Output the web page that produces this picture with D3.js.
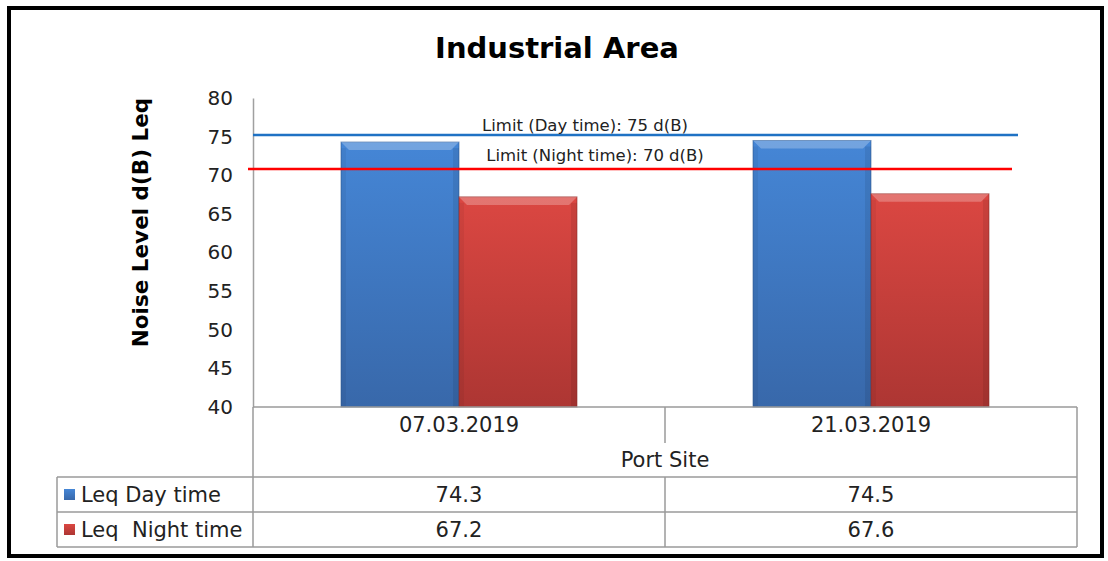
<!DOCTYPE html>
<html>
<head>
<meta charset="utf-8">
<script src="https://cdn.jsdelivr.net/npm/d3@7"></script>
<style>
  body { margin: 0; background: #fff; }
  text { font-family: "DejaVu Sans", Verdana, sans-serif; fill: #222; }
</style>
</head>
<body>
<script>
var categories = ['07.03.2019', '21.03.2019']
var seriesNames = ['Leq Day time', 'Leq  Night time']
var dayValues = [74.3, 74.5]
var nightValues = [67.2, 67.6]
var yTicks = [40, 45, 50, 55, 60, 65, 70, 75, 80]
var limitValues = [75.2, 70.8]
var limitLabels = ['Limit (Day time): 75 d(B)', 'Limit (Night time): 70 d(B)']
var groupLabel = 'Port Site'

var width = 1108, height = 561
var pl = 253, pr = 1077, pt = 98, pb = 407

var svg = d3.select('body').append('svg')
  .attr('width', width)
  .attr('height', height)

var defs = svg.append('defs')
function grad(id, c1, c2){
  var g = defs.append('linearGradient').attr('id', id)
    .attr('x1', 0).attr('y1', 0).attr('x2', 0).attr('y2', 1)
  g.append('stop').attr('offset', '0%').attr('stop-color', c1)
  g.append('stop').attr('offset', '100%').attr('stop-color', c2)
}
grad('gDay', '#4586d6', '#3868aa')
grad('gNight', '#db4742', '#ad3633')

// frame
svg.append('rect')
  .attr('x', 9).attr('y', 8)
  .attr('width', 1093).attr('height', 548)
  .attr('fill', '#fff')
  .attr('stroke', '#000')
  .attr('stroke-width', 4)

svg.append('text')
  .attr('x', 557).attr('y', 58)
  .attr('text-anchor', 'middle')
  .style('font-size', '29px')
  .style('font-weight', 'bold')
  .style('fill', '#000')
  .text('Industrial Area')

var y = d3.scaleLinear().domain([40, 80]).range([pb, pt])
var x = d3.scaleBand().domain(categories).range([pl, pr])
var xs = d3.scaleBand().domain([0, 1]).range([88, x.bandwidth() - 88])

// y axis
var yAxis = svg.append('g')
  .attr('transform', 'translate(' + pl + ',0)')
  .call(d3.axisLeft(y).tickValues(yTicks).tickSize(0).tickPadding(20))
yAxis.select('.domain').attr('stroke', '#a0a0a0').attr('stroke-width', 1.5)
yAxis.selectAll('text')
  .style('font-size', '20px')
  .style('font-family', '"DejaVu Sans", Verdana, sans-serif')
  .attr('fill', '#222')

svg.append('text')
  .attr('transform', 'translate(148,' + ((pt + pb) / 2 - 30) + ') rotate(-90)')
  .attr('text-anchor', 'middle')
  .style('font-size', '21.5px')
  .style('font-weight', 'bold')
  .style('fill', '#000')
  .text('Noise Level d(B) Leq')

// bars
var data = []
categories.forEach(function(c, i){
  data.push({cat: c, s: 0, v: dayValues[i]})
  data.push({cat: c, s: 1, v: nightValues[i]})
})

var bars = svg.selectAll('g.bar')
  .data(data)
  .enter()
  .append('g')
  .attr('class', 'bar')

bars.append('rect')
  .attr('x', function(d){ return x(d.cat) + xs(d.s) })
  .attr('y', function(d){ return y(d.v) })
  .attr('width', xs.bandwidth())
  .attr('height', function(d){ return pb - y(d.v) })
  .attr('fill', function(d){ return d.s == 0 ? 'url(#gDay)' : 'url(#gNight)' })
  .attr('stroke', function(d){ return d.s == 0 ? '#2f5a94' : '#8f2e2b' })
  .attr('stroke-opacity', 0.6)
  .attr('stroke-width', 1)

// bevel highlight on top
bars.append('path')
  .attr('d', function(d){
    var x0 = x(d.cat) + xs(d.s), x1 = x0 + xs.bandwidth(), y0 = y(d.v)
    return 'M' + x0 + ',' + y0 + 'L' + x1 + ',' + y0 + 'L' + (x1 - 8) + ',' + (y0 + 8) +
      'L' + (x0 + 8) + ',' + (y0 + 8) + 'Z'
  })
  .attr('fill', '#fff')
  .attr('fill-opacity', 0.25)
// darker side edges
bars.append('rect')
  .attr('x', function(d){ return x(d.cat) + xs(d.s) + xs.bandwidth() - 6 })
  .attr('y', function(d){ return y(d.v) + 6 })
  .attr('width', 6)
  .attr('height', function(d){ return pb - y(d.v) - 6 })
  .attr('fill', '#000')
  .attr('fill-opacity', 0.08)
bars.append('rect')
  .attr('x', function(d){ return x(d.cat) + xs(d.s) })
  .attr('y', function(d){ return y(d.v) + 6 })
  .attr('width', 5)
  .attr('height', function(d){ return pb - y(d.v) - 6 })
  .attr('fill', '#000')
  .attr('fill-opacity', 0.05)

// limit lines
svg.append('line')
  .attr('x1', pl).attr('x2', 1018)
  .attr('y1', y(limitValues[0])).attr('y2', y(limitValues[0]))
  .attr('stroke', '#1f72c4').attr('stroke-width', 2.5)
svg.append('line')
  .attr('x1', 248).attr('x2', 1012)
  .attr('y1', y(limitValues[1])).attr('y2', y(limitValues[1]))
  .attr('stroke', '#ff0000').attr('stroke-width', 2.5)
svg.append('text')
  .attr('x', 585).attr('y', 131)
  .attr('text-anchor', 'middle')
  .style('font-size', '16.5px')
  .text(limitLabels[0])
svg.append('text')
  .attr('x', 595).attr('y', 161)
  .attr('text-anchor', 'middle')
  .style('font-size', '16.5px')
  .text(limitLabels[1])

// data table
var tbl = svg.append('g')
  .attr('stroke', '#9a9a9a')
  .attr('stroke-width', 1.5)
var r0 = pb, r1 = 443, r2 = 477, r3 = 512, r4 = 547, tl = 57
tbl.append('line').attr('x1', pl).attr('x2', pr).attr('y1', r0).attr('y2', r0)
tbl.append('line').attr('x1', tl).attr('x2', pr).attr('y1', r2).attr('y2', r2)
tbl.append('line').attr('x1', tl).attr('x2', pr).attr('y1', r3).attr('y2', r3)
tbl.append('line').attr('x1', tl).attr('x2', pr).attr('y1', r4).attr('y2', r4)
tbl.append('line').attr('x1', pl).attr('x2', pl).attr('y1', r0).attr('y2', r4)
tbl.append('line').attr('x1', pr).attr('x2', pr).attr('y1', r0).attr('y2', r4)
tbl.append('line').attr('x1', tl).attr('x2', tl).attr('y1', r2).attr('y2', r4)
var mid = x(categories[1])
tbl.append('line').attr('x1', mid).attr('x2', mid).attr('y1', r0).attr('y2', r1)
tbl.append('line').attr('x1', mid).attr('x2', mid).attr('y1', r2).attr('y2', r4)

svg.selectAll('text.cat')
  .data(categories)
  .enter()
  .append('text')
  .attr('class', 'cat')
  .attr('x', function(d){ return x(d) + x.bandwidth() / 2 })
  .attr('y', 432)
  .attr('text-anchor', 'middle')
  .style('font-size', '21px')
  .text(function(d){ return d })

svg.append('text')
  .attr('x', (pl + pr) / 2).attr('y', 467)
  .attr('text-anchor', 'middle')
  .style('font-size', '21px')
  .text(groupLabel)

var rows = [dayValues, nightValues]
rows.forEach(function(vals, ri){
  var yy = ri == 0 ? 502 : 537
  svg.selectAll('text.v' + ri)
    .data(vals)
    .enter()
    .append('text')
    .attr('class', 'v' + ri)
    .attr('x', function(d, i){ return x(categories[i]) + x.bandwidth() / 2 })
    .attr('y', yy)
    .attr('text-anchor', 'middle')
    .style('font-size', '21px')
    .text(function(d){ return d.toFixed(1) })
  svg.append('rect')
    .attr('x', 64).attr('y', yy - 13)
    .attr('width', 11).attr('height', 11)
    .attr('fill', ri == 0 ? 'url(#gDay)' : 'url(#gNight)')
  svg.append('text')
    .attr('x', 81).attr('y', yy)
    .style('font-size', '21px')
    .style('white-space', 'pre')
    .attr('xml:space', 'preserve')
    .text(seriesNames[ri])
})
</script>
</body>
</html>
